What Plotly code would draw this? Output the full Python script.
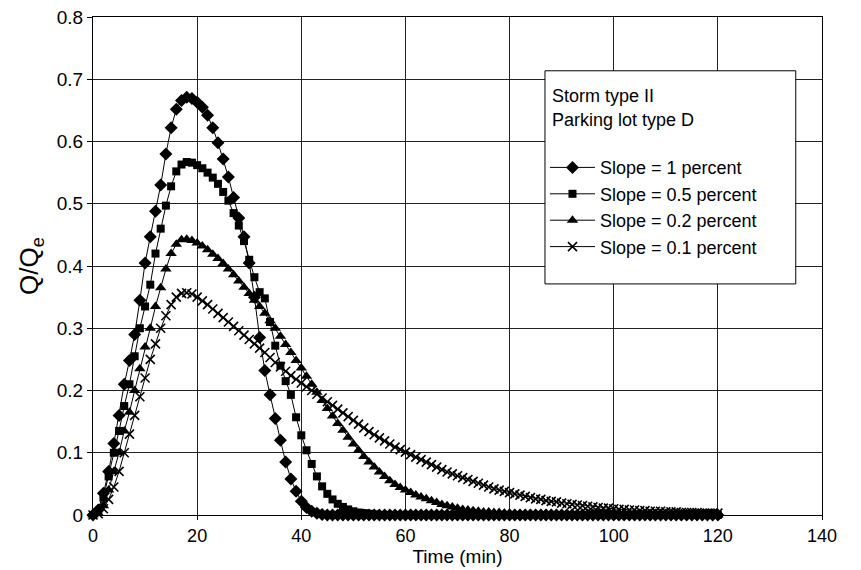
import plotly.graph_objects as go

minutes = list(range(0, 121))

slope_1 = [
    0, 0.008, 0.035, 0.07, 0.115, 0.16, 0.21, 0.248, 0.29, 0.345,
    0.405, 0.447, 0.488, 0.53, 0.58, 0.622, 0.652, 0.666, 0.671, 0.669,
    0.663, 0.655, 0.642, 0.622, 0.598, 0.572, 0.543, 0.51, 0.477, 0.447,
    0.405, 0.35, 0.285, 0.232, 0.193, 0.155, 0.12, 0.085, 0.058, 0.038,
    0.022, 0.012, 0.006, 0.003, 0.001, 0, 0, 0, 0, 0,
    0, 0, 0, 0, 0, 0, 0, 0, 0, 0,
    0, 0, 0, 0, 0, 0, 0, 0, 0, 0,
    0, 0, 0, 0, 0, 0, 0, 0, 0, 0,
    0, 0, 0, 0, 0, 0, 0, 0, 0, 0,
    0, 0, 0, 0, 0, 0, 0, 0, 0, 0,
    0, 0, 0, 0, 0, 0, 0, 0, 0, 0,
    0, 0, 0, 0, 0, 0, 0, 0, 0, 0,
    0,
]

slope_05 = [
    0, 0.005, 0.028, 0.062, 0.1, 0.135, 0.175, 0.21, 0.255, 0.3,
    0.335, 0.37, 0.42, 0.46, 0.497, 0.528, 0.552, 0.563, 0.567, 0.566,
    0.562, 0.557, 0.55, 0.542, 0.532, 0.519, 0.505, 0.485, 0.465, 0.44,
    0.41, 0.382, 0.358, 0.348, 0.31, 0.272, 0.24, 0.215, 0.193, 0.157,
    0.128, 0.104, 0.082, 0.062, 0.046, 0.034, 0.025, 0.018, 0.013, 0.009,
    0.006, 0.004, 0.003, 0.002, 0.001, 0, 0, 0, 0, 0,
    0, 0, 0, 0, 0, 0, 0, 0, 0, 0,
    0, 0, 0, 0, 0, 0, 0, 0, 0, 0,
    0, 0, 0, 0, 0, 0, 0, 0, 0, 0,
    0, 0, 0, 0, 0, 0, 0, 0, 0, 0,
    0, 0, 0, 0, 0, 0, 0, 0, 0, 0,
    0, 0, 0, 0, 0, 0, 0, 0, 0, 0,
    0,
]

slope_02 = [
    0, 0.003, 0.015, 0.04, 0.07, 0.1, 0.135, 0.165, 0.2, 0.235,
    0.27, 0.3, 0.335, 0.365, 0.395, 0.42, 0.435, 0.442, 0.443, 0.441,
    0.437, 0.432, 0.426, 0.419, 0.412, 0.404, 0.395, 0.386, 0.376, 0.366,
    0.356, 0.345, 0.335, 0.324, 0.312, 0.3, 0.287, 0.274, 0.261, 0.248,
    0.236, 0.223, 0.21, 0.197, 0.184, 0.171, 0.159, 0.147, 0.136, 0.125,
    0.114, 0.104, 0.094, 0.085, 0.077, 0.069, 0.062, 0.055, 0.049, 0.044,
    0.04, 0.036, 0.032, 0.029, 0.026, 0.023, 0.02, 0.017, 0.015, 0.013,
    0.011, 0.009, 0.008, 0.007, 0.006, 0.005, 0.005, 0.004, 0.004, 0.003,
    0.003, 0.002, 0.002, 0.002, 0.002, 0.002, 0.002, 0.002, 0.002, 0.002,
    0.002, 0.001, 0.001, 0.001, 0.001, 0.001, 0.001, 0.001, 0.001, 0.001,
    0.001, 0.001, 0.001, 0.001, 0.001, 0.001, 0, 0, 0, 0,
    0, 0, 0, 0, 0, 0, 0, 0, 0, 0,
    0,
]

slope_01 = [
    0, 0.002, 0.01, 0.025, 0.045, 0.07, 0.1, 0.13, 0.16, 0.19,
    0.22, 0.25, 0.275, 0.3, 0.32, 0.338, 0.35, 0.356, 0.357, 0.355,
    0.35, 0.344, 0.338, 0.331, 0.324, 0.317, 0.31, 0.303, 0.296, 0.289,
    0.282, 0.275, 0.268, 0.261, 0.253, 0.245, 0.238, 0.231, 0.224, 0.218,
    0.212, 0.206, 0.2, 0.194, 0.188, 0.182, 0.176, 0.17, 0.164, 0.158,
    0.152, 0.146, 0.14, 0.134, 0.129, 0.124, 0.119, 0.114, 0.109, 0.105,
    0.101, 0.097, 0.093, 0.089, 0.085, 0.081, 0.077, 0.073, 0.069, 0.066,
    0.063, 0.06, 0.057, 0.054, 0.051, 0.048, 0.045, 0.042, 0.04, 0.038,
    0.036, 0.034, 0.032, 0.03, 0.028, 0.026, 0.025, 0.023, 0.022, 0.021,
    0.019, 0.018, 0.017, 0.016, 0.015, 0.014, 0.013, 0.012, 0.011, 0.011,
    0.01, 0.009, 0.009, 0.008, 0.008, 0.007, 0.007, 0.006, 0.006, 0.006,
    0.005, 0.005, 0.005, 0.004, 0.004, 0.004, 0.004, 0.003, 0.003, 0.003,
    0.003,
]

series_names = ["Slope = 1 percent", "Slope = 0.5 percent",
                "Slope = 0.2 percent", "Slope = 0.1 percent"]
series_values = [slope_1, slope_05, slope_02, slope_01]
symbols = ["diamond", "square", "triangle-up", "x-thin"]
sizes = [10, 8, 10, 9]

y_ticks = [0, 0.1, 0.2, 0.3, 0.4, 0.5, 0.6, 0.7, 0.8]
y_tick_labels = ["0", "0.1", "0.2", "0.3", "0.4", "0.5", "0.6", "0.7", "0.8"]
x_ticks = [0, 20, 40, 60, 80, 100, 120, 140]

legend_lines = ["Storm type II", "Parking lot type D"]
NB = "\u00a0"
legend_title = "<br>".join(NB + s for s in legend_lines) + "<br>" + NB

FONT = "Liberation Sans, Arial, Helvetica, sans-serif"

fig = go.Figure()
for name, vals, sym, sz in zip(series_names, series_values, symbols, sizes):
    fig.add_trace(go.Scatter(
        x=minutes, y=vals, name=name, mode="lines+markers",
        line=dict(color="black", width=1),
        marker=dict(symbol=sym, size=sz, color="black",
                    line=dict(color="black", width=1.6 if sym == "x-thin" else 0)),
        cliponaxis=False,
    ))

# legend frame (paper coordinates of the plotting area)
fig.add_shape(type="rect", xref="paper", yref="paper",
              x0=0.620, x1=0.964, y0=0.464, y1=0.892,
              line=dict(color="black", width=1), fillcolor="white", layer="above")

fig.update_layout(
    width=853, height=562,
    margin=dict(l=85, r=39, t=9, b=55, pad=0),
    paper_bgcolor="white", plot_bgcolor="white",
    font=dict(family=FONT, color="black", size=18),
    showlegend=True,
    legend=dict(
        x=0.62, y=0.8755, xanchor="left", yanchor="top",
        bgcolor="rgba(0,0,0,0)", borderwidth=0,
        font=dict(family=FONT, size=18, color="black"),
        title=dict(text=legend_title, font=dict(family=FONT, size=18, color="black"), side="top"),
        itemwidth=45,
        itemclick=False,
    ),
    xaxis=dict(
        range=[0, 140], tickmode="array", tickvals=x_ticks,
        showgrid=True, gridcolor="#222222", gridwidth=1,
        showline=True, linecolor="black", linewidth=1, mirror=True,
        zeroline=False, ticks="outside", ticklen=4, tickcolor="black",
        tickfont=dict(size=18), ticklabeloverflow="allow",
        title=dict(text="Time (min)", font=dict(size=19), standoff=2),
        automargin=False,
    ),
    yaxis=dict(
        range=[0, 0.8], tickmode="array", tickvals=y_ticks, ticktext=y_tick_labels,
        showgrid=True, gridcolor="#222222", gridwidth=1,
        showline=True, linecolor="black", linewidth=1, mirror=True,
        zeroline=False, ticks="outside", ticklen=5, tickcolor="black",
        tickfont=dict(size=19), ticklabeloverflow="allow",
        title=dict(text="Q/Q<sub>e</sub>", font=dict(size=26), standoff=10),
        automargin=False,
    ),
)

fig.write_html("out.html")
